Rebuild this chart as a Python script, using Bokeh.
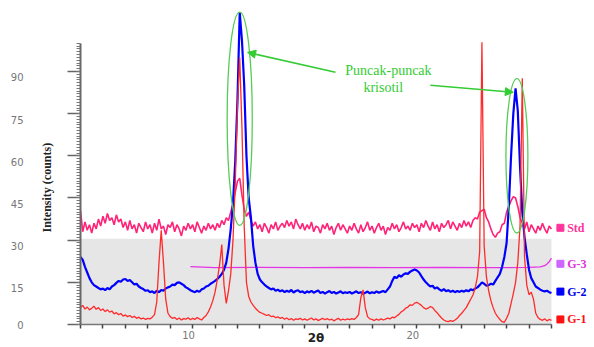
from bokeh.plotting import figure
from bokeh.models import (Range1d, FixedTicker, Label, Arrow, NormalHead, LinearAxis, Title,
                          BoxAnnotation, ColumnDataSource)
from bokeh.core.properties import value
from bokeh.embed import file_html
from bokeh.resources import INLINE

# ---------------- data ----------------
two_theta = [
    5.0, 5.1, 5.2, 5.3, 5.4, 5.5, 5.6, 5.7, 5.8, 5.9,
    6.0, 6.1, 6.2, 6.3, 6.4, 6.5, 6.6, 6.7, 6.8, 6.9,
    7.0, 7.1, 7.2, 7.3, 7.4, 7.5, 7.6, 7.7, 7.8, 7.9,
    8.0, 8.1, 8.2, 8.3, 8.4, 8.5, 8.6, 8.7, 8.8, 8.9,
    9.0, 9.1, 9.2, 9.3, 9.4, 9.5, 9.6, 9.7, 9.8, 9.9,
    10.0, 10.1, 10.2, 10.3, 10.4, 10.5, 10.6, 10.7, 10.8, 10.9,
    11.0, 11.1, 11.2, 11.3, 11.4, 11.5, 11.6, 11.7, 11.8, 11.9,
    12.0, 12.1, 12.2, 12.3, 12.4, 12.5, 12.6, 12.7, 12.8, 12.9,
    13.0, 13.1, 13.2, 13.3, 13.4, 13.5, 13.6, 13.7, 13.8, 13.9,
    14.0, 14.1, 14.2, 14.3, 14.4, 14.5, 14.6, 14.7, 14.8, 14.9,
    15.0, 15.1, 15.2, 15.3, 15.4, 15.5, 15.6, 15.7, 15.8, 15.9,
    16.0, 16.1, 16.2, 16.3, 16.4, 16.5, 16.6, 16.7, 16.8, 16.9,
    17.0, 17.1, 17.2, 17.3, 17.4, 17.5, 17.6, 17.7, 17.8, 17.9,
    18.0, 18.1, 18.2, 18.3, 18.4, 18.5, 18.6, 18.7, 18.8, 18.9,
    19.0, 19.1, 19.2, 19.3, 19.4, 19.5, 19.6, 19.7, 19.8, 19.9,
    20.0, 20.1, 20.2, 20.3, 20.4, 20.5, 20.6, 20.7, 20.8, 20.9,
    21.0, 21.1, 21.2, 21.3, 21.4, 21.5, 21.6, 21.7, 21.8, 21.9,
    22.0, 22.1, 22.2, 22.3, 22.4, 22.5, 22.6, 22.7, 22.8, 22.9,
    23.0, 23.1, 23.2, 23.3, 23.4, 23.5, 23.6, 23.7, 23.8, 23.9,
    24.0, 24.1, 24.2, 24.3, 24.4, 24.5, 24.6, 24.7, 24.8, 24.9,
    25.0, 25.1, 25.2, 25.3, 25.4, 25.5, 25.6, 25.7, 25.8, 25.9,
    26.0,
]

std_counts = [
    40.5, 33.0, 36.5, 33.5, 35.5, 32.5, 36.0, 34.0, 37.5, 35.0,
    38.5, 36.0, 39.5, 37.0, 38.0, 35.5, 39.0, 36.5, 37.5, 34.5,
    36.5, 33.5, 37.0, 34.0, 35.5, 32.5, 36.0, 34.5, 33.0, 36.5,
    34.0, 35.5, 32.5, 36.0, 33.5, 37.5, 34.0, 35.0, 32.0, 35.5,
    34.5, 36.5, 33.0, 35.5, 34.0, 31.5, 35.0, 33.5, 36.0, 34.0,
    35.5, 33.0, 36.5, 34.5, 32.5, 35.0, 33.5, 36.0, 34.0, 35.5,
    33.5, 36.0, 34.5, 37.0, 35.5, 38.0, 37.0, 40.0, 43.0, 47.0,
    51.0, 52.0, 46.0, 41.0, 38.5, 40.0, 37.0, 35.0, 36.5, 34.0,
    35.5, 33.0, 36.0, 34.5, 32.5, 35.5, 34.0, 36.5, 33.5, 35.0,
    36.0, 34.5, 37.0, 35.0, 36.5, 34.0, 37.5, 35.5, 34.0, 36.0,
    33.5, 35.5, 34.0, 36.5, 33.0, 35.0, 34.5, 32.5, 35.5, 34.0,
    36.0, 33.5, 35.0, 32.0, 34.5, 36.0, 33.5, 35.5, 34.0, 32.5,
    35.0, 33.5, 36.0, 34.0, 32.5, 35.5, 33.0, 34.5, 36.5, 33.5,
    35.0, 32.5, 34.5, 36.0, 33.5, 35.0, 32.0, 34.5, 33.5, 36.0,
    34.0, 35.5, 33.0, 34.5, 36.5, 34.0, 35.0, 33.5, 36.0, 34.5,
    35.5, 33.0, 36.0, 34.5, 37.0, 35.0, 33.5, 36.5, 34.0, 35.5,
    33.0, 36.0, 34.5, 35.5, 37.0, 34.0, 36.5, 35.0, 33.5, 36.0,
    34.5, 37.0, 35.0, 36.5, 34.5, 37.0, 38.0, 37.5, 40.0, 40.5,
    41.0, 38.0, 36.5, 34.0, 32.0, 31.0, 32.5, 33.0, 35.5, 36.0,
    40.0, 42.0, 44.0, 45.5, 45.0, 42.0, 38.0, 36.0, 34.0, 36.5,
    33.0, 35.5, 34.0, 32.5, 35.0, 33.5, 36.0, 34.0, 32.5, 35.0,
    34.0,
]

g2_counts = [
    24.0, 23.0, 20.5, 18.5, 16.5, 15.0, 14.0, 13.5, 13.0, 12.5,
    12.8, 12.2, 13.0, 12.5, 13.5, 14.0, 14.8, 15.5, 15.2, 16.0,
    16.2, 15.5, 15.8, 15.0, 14.2, 14.5, 13.5, 13.0, 12.6, 12.0,
    12.2, 11.5, 11.8, 11.2, 12.0, 11.5, 12.3, 12.0, 12.8, 13.2,
    13.5, 14.2, 14.0, 14.8, 15.0, 14.5, 14.0, 13.2, 12.8, 12.2,
    11.8, 11.5, 12.0, 11.6, 12.5, 12.8, 13.5, 13.8, 14.5, 15.0,
    15.5, 16.2, 17.0, 18.0, 19.5, 22.0, 27.0, 34.0, 43.0, 58.0,
    80.0, 111.0, 101.0, 85.0, 60.0, 45.0, 38.0, 28.0, 22.0, 18.0,
    16.0, 15.0, 14.2, 13.5, 13.0, 12.5, 12.8, 12.0, 12.4, 11.8,
    12.2, 11.5, 12.0, 11.6, 12.3, 11.4, 11.9, 12.2, 11.5, 11.8,
    11.2, 11.8, 11.4, 12.0, 11.3, 11.7, 12.1, 11.2, 11.6, 11.0,
    11.5, 11.9, 11.2, 11.6, 11.0, 11.4, 11.8, 11.1, 11.5, 11.2,
    11.6, 11.0, 11.4, 11.8, 11.2, 11.5, 10.9, 11.3, 11.7, 11.1,
    11.5, 11.2, 11.8, 11.3, 11.6, 11.9, 11.5, 12.5, 13.5, 15.5,
    17.0, 16.5, 17.5, 17.0, 17.8, 18.2, 18.0, 18.8, 19.2, 19.6,
    19.2, 18.5, 17.2, 16.0, 15.0, 14.2, 13.5, 13.8, 12.8, 13.2,
    12.5, 12.0, 12.6, 11.8, 12.2, 11.6, 12.0, 11.5, 11.9, 11.6,
    12.0, 11.7, 12.2, 11.8, 12.5, 12.2, 12.8, 13.2, 14.0, 15.0,
    14.5, 13.8, 14.0, 14.5, 14.2, 15.5, 16.8, 18.0, 20.5, 24.0,
    29.0, 42.0, 60.0, 75.0, 84.0, 76.0, 56.0, 40.0, 31.0, 25.0,
    19.5, 16.5, 15.0, 13.5, 13.0, 12.4, 12.0, 11.8, 12.0, 11.5,
    11.2,
]

g1_counts = [
    6.0, 6.8, 5.5, 6.2, 5.2, 5.8, 6.5, 5.4, 6.0, 5.0,
    5.5, 4.6, 5.2, 4.4, 4.8, 3.8, 4.2, 3.5, 3.9, 3.0,
    3.4, 2.8, 3.2, 2.5, 2.9, 2.2, 2.6, 2.0, 2.3, 1.8,
    2.2, 2.0, 2.6, 3.5, 8.0, 22.0, 33.5, 22.0, 9.0, 4.0,
    2.8, 2.2, 2.5, 1.8, 2.3, 1.6, 2.1, 1.9, 2.4, 1.7,
    2.2, 1.8, 2.5, 2.0, 1.6, 2.5, 3.2, 4.5, 6.2, 8.5,
    11.5, 16.0, 21.0, 28.4, 14.0, 7.5, 12.0, 18.0, 30.0, 50.0,
    78.0, 95.0, 70.0, 35.0, 15.0, 10.0, 8.0, 6.8, 5.8, 5.0,
    4.3, 4.0, 3.6, 3.2, 3.5, 2.8, 3.0, 2.4, 2.7, 2.2,
    2.5, 1.9, 2.3, 1.7, 2.1, 1.5, 2.0, 1.8, 2.2, 1.6,
    2.0, 1.5, 1.9, 2.3, 1.6, 2.0, 1.4, 1.8, 2.2, 1.7,
    2.1, 1.6, 1.9, 1.3, 1.8, 2.2, 1.5, 1.9, 1.6, 2.0,
    1.7, 2.1, 1.8, 2.5, 3.5, 9.5, 12.3, 6.0, 2.8, 2.0,
    1.8, 1.4, 1.9, 1.5, 2.0, 1.6, 1.9, 2.3, 2.0, 2.6,
    2.4, 3.0, 3.6, 4.5, 5.0, 5.8, 6.2, 7.0, 6.8, 7.6,
    7.9, 7.4, 6.8, 6.0, 5.5, 5.8, 6.4, 6.0, 5.0, 4.2,
    3.2, 2.3, 1.6, 1.2, 1.0, 1.4, 1.1, 1.6, 2.2, 3.2,
    4.0, 5.0, 6.0, 7.5, 9.0, 10.5, 13.0, 17.0, 26.0, 100.4,
    28.0, 17.0, 12.0, 8.5, 6.0, 4.0, 2.8, 1.8, 1.0, 0.8,
    2.2, 4.0, 7.5, 11.0, 15.0, 22.0, 35.0, 87.6, 24.0, 14.0,
    10.6, 11.5, 9.0, 4.0, 2.5, 1.8, 1.5, 2.0, 1.3, 1.8,
    1.5,
]

g3_theta = [9.9, 11.0, 13.0, 15.0, 17.0, 19.0, 21.0, 23.0, 25.0, 25.5, 25.7, 25.8, 25.9, 26.0]
g3_counts = [20.6, 20.2, 20.3, 20.2, 20.3, 20.2, 20.3, 20.2, 20.3, 20.5, 20.9, 21.5, 22.3, 23.6]

y_ticks = [0, 15, 30, 45, 60, 75, 90]
x_tick_values = [10, 20]
x_title_pos = 15.5
x_title = "2θ"
y_title = "Intensity (counts)"

legend_names = ["Std", "G-3", "G-2", "G-1"]
legend_levels = [34.4, 21.6, 11.7, 1.8]
legend_square_colors = ["#ff3399", "#cc66ff", "#0000ff", "#ff1111"]
legend_text_colors = ["#ff3399", "#dd33dd", "#0000ee", "#ff1111"]

# ---------------- figure ----------------
X0, X1 = 5, 27.92
Y0, Y1 = 0, 115.25
Y_LABEL_SHIFT = 2.1    # y tick labels sit a little below their ticks
X_LABEL_SHIFT = 0.18   # x tick labels sit a little left of their ticks
p = figure(width=594, height=347, x_range=Range1d(X0, X1), y_range=Range1d(Y0, Y1),
           y_axis_location=None, output_backend="svg", toolbar_location=None,
           min_border_left=80, min_border_right=0, min_border_top=0, min_border_bottom=22)
p.outline_line_color = None
p.xgrid.visible = False
p.ygrid.visible = False
p.background_fill_color = "white"
p.extra_y_ranges = {"ylbl": Range1d(Y0 + Y_LABEL_SHIFT, Y1 + Y_LABEL_SHIFT)}
p.extra_x_ranges = {"xlbl": Range1d(X0 + X_LABEL_SHIFT, X1 + X_LABEL_SHIFT)}

# grey band
p.add_layout(BoxAnnotation(left=5, right=26, bottom=0, top=30.5, fill_color="#e6e6e6",
                           fill_alpha=1, line_color=None, level="underlay"))

# ---- left side: axis line + ticks, then title, then tick labels
ya = LinearAxis(ticker=FixedTicker(ticks=y_ticks, minor_ticks=list(range(0, 101))))
ya.bounds = (0, 100)
ya.axis_line_color = "#666666"
ya.axis_line_width = 2
ya.major_tick_line_color = "#666666"
ya.major_tick_line_width = 1.5
ya.minor_tick_line_color = "#777777"
ya.major_tick_out = 13
ya.major_tick_in = 0
ya.minor_tick_out = 4
ya.minor_tick_in = 0
ya.major_label_overrides = {t: "" for t in y_ticks}
ya.major_label_standoff = 0
p.add_layout(ya, "left")

p.add_layout(Title(text=y_title, align="left", offset=92, standoff=28,
                   text_font="Liberation Serif", text_font_style="bold",
                   text_font_size="12px", text_color="#222222"), "left")

# tick labels on a range shifted so they sit just below their ticks; the bottom
# label is placed at the range start, the lowest position the axis can show
label_ticks = [Y0 + Y_LABEL_SHIFT] + y_ticks[1:]
yl = LinearAxis(y_range_name="ylbl", ticker=FixedTicker(ticks=label_ticks, minor_ticks=[]))
yl.major_label_overrides = {Y0 + Y_LABEL_SHIFT: str(y_ticks[0])}
yl.axis_line_color = None
yl.major_tick_line_color = None
yl.minor_tick_line_color = None
yl.major_tick_out = 0
yl.minor_tick_out = 0
yl.major_label_standoff = 0
yl.major_label_text_font = "DejaVu Sans"
yl.major_label_text_font_size = "10px"
yl.major_label_text_color = "#777777"
p.add_layout(yl, "left")

# ---- bottom: axis line + ticks, tick labels, title
xa = p.xaxis[0]
xa.ticker = FixedTicker(ticks=[], minor_ticks=list(range(5, 27)))
xa.bounds = (5, 26)
xa.axis_line_color = "#777777"
xa.axis_line_width = 1.5
xa.minor_tick_line_color = "#444444"
xa.minor_tick_line_width = 1.5
xa.minor_tick_out = 4
xa.minor_tick_in = 0
xa.major_tick_out = 0
xa.major_label_standoff = 0

xl = LinearAxis(x_range_name="xlbl", ticker=FixedTicker(ticks=x_tick_values, minor_ticks=[]))
xl.axis_line_color = None
xl.major_tick_line_color = None
xl.minor_tick_line_color = None
xl.major_tick_out = 0
xl.minor_tick_out = 0
xl.major_label_standoff = 2
xl.major_label_text_font = "DejaVu Sans"
xl.major_label_text_font_size = "10px"
xl.major_label_text_color = "#777777"
p.add_layout(xl, "below")

xt = LinearAxis(ticker=FixedTicker(ticks=[x_title_pos], minor_ticks=[]))
xt.major_label_overrides = {x_title_pos: x_title}
xt.axis_line_color = None
xt.major_tick_line_color = None
xt.minor_tick_line_color = None
xt.major_tick_out = 0
xt.minor_tick_out = 0
xt.major_label_standoff = -11
xt.major_label_text_font = "DejaVu Sans"
xt.major_label_text_font_style = "bold"
xt.major_label_text_font_size = "12px"
xt.major_label_text_color = "#222222"
p.add_layout(xt, "below")

# curves
p.line(two_theta, std_counts, line_color="#ff2277", line_width=1.6)
p.line(g3_theta, g3_counts, line_color="#e633e6", line_width=1.3)
p.line(two_theta, g2_counts, line_color="#0000ff", line_width=2.2)
p.line(two_theta, g1_counts, line_color="#ff2a2a", line_width=1.3)

# legend
p.scatter([26.4] * 4, legend_levels, marker="square", size=7,
          fill_color=legend_square_colors, line_color=legend_square_colors)
leg_src = ColumnDataSource(dict(x=[26.7] * 4, y=legend_levels, t=legend_names, c=legend_text_colors))
p.text(x="x", y="y", text="t", source=leg_src, text_color="c",
       text_font=value("Liberation Serif"), text_font_style="bold",
       text_font_size="12px", text_baseline="middle", text_align="left")

# green annotation
green = "#33cc33"
p.ellipse(x=[12.1, 24.46], y=[73.2, 60.0], width=[1.12, 0.98], height=[75.9, 55.0],
          fill_color=None, line_color="#55cc55", line_width=1.3)
p.add_layout(Arrow(end=NormalHead(size=8, fill_color=green, line_color=green),
                   x_start=16.37, y_start=89.7, x_end=12.45, y_end=96.8,
                   line_color=green, line_width=1.6))
p.add_layout(Arrow(end=NormalHead(size=8, fill_color=green, line_color=green),
                   x_start=20.6, y_start=85.1, x_end=24.3, y_end=82.6,
                   line_color=green, line_width=1.6))
p.add_layout(Label(x=18.73, y=90.4, text="Puncak-puncak", text_font="Liberation Serif",
                   text_font_size="14px", text_color=green, text_align="center",
                   text_baseline="middle"))
p.add_layout(Label(x=18.5, y=84.2, text="krisotil", text_font="Liberation Serif",
                   text_font_size="14px", text_color=green, text_align="center",
                   text_baseline="middle"))

open("out.html", "w").write(file_html(p, INLINE))
